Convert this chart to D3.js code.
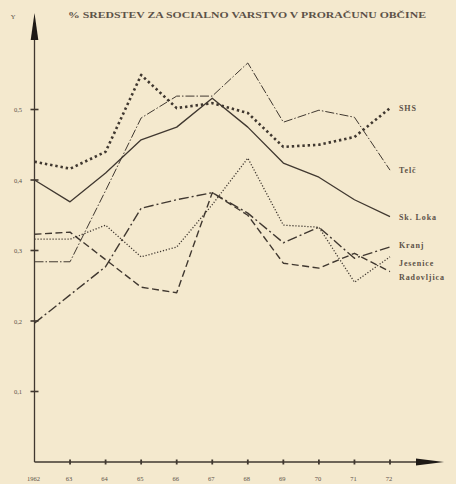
<!DOCTYPE html>
<html>
<head>
<meta charset="utf-8">
<script src="https://cdn.jsdelivr.net/npm/d3@7"></script>
<style>
  body { margin: 0; background: #f4e9ce; }
  svg { display: block; }
</style>
</head>
<body>
<script>
// years on the x axis
const years = [1962, 1963, 1964, 1965, 1966, 1967, 1968, 1969, 1970, 1971, 1972];
const yearLabels = ['1962', '63', '64', '65', '66', '67', '68', '69', '70', '71', '72'];
const yTicks = [0.1, 0.2, 0.3, 0.4, 0.5];

// share of funds per municipality
const shs        = [0.426, 0.416, 0.440, 0.549, 0.502, 0.509, 0.495, 0.447, 0.450, 0.461, 0.502];
const telc       = [0.284, 0.284, 0.385, 0.488, 0.519, 0.519, 0.566, 0.482, 0.499, 0.489, 0.414];
const skLoka     = [0.400, 0.369, 0.410, 0.457, 0.475, 0.516, 0.475, 0.424, 0.404, 0.372, 0.348];
const kranj      = [0.197, 0.237, 0.277, 0.360, 0.372, 0.382, 0.353, 0.311, 0.333, 0.289, 0.305];
const jesenice   = [0.316, 0.316, 0.336, 0.291, 0.305, 0.365, 0.431, 0.336, 0.333, 0.255, 0.291];
const radovljica = [0.323, 0.326, 0.287, 0.248, 0.240, 0.382, 0.350, 0.282, 0.275, 0.296, 0.270];

const seriesNames = ['SHS', 'Telč', 'Sk. Loka', 'Kranj', 'Jesenice', 'Radovljica'];
const seriesValues = [shs, telc, skLoka, kranj, jesenice, radovljica];

const title = '% SREDSTEV ZA SOCIALNO VARSTVO V PRORAČUNU OBČINE';

const width = 456, height = 484;
const ink = '#403830';
const textInk = '#5c5248';

const svg = d3.select('body').append('svg')
  .attr('width', width)
  .attr('height', height);

svg.append('rect').attr('width', width).attr('height', height).attr('fill', '#f4e9ce');

const xScale = d3.scaleLinear().domain([1962, 1972]).range([34.5, 390]);
const yScale = d3.scaleLinear().domain([0, 0.5]).range([462, 109.5]);

// line styles per series
const styles = {
  'SHS':        {w: 2.6, dash: '2.4,2.9'},
  'Telč':       {w: 1.0, dash: '9,2,1.5,2'},
  'Sk. Loka':   {w: 1.3, dash: null},
  'Kranj':      {w: 1.4, dash: '10,3,2,3'},
  'Jesenice':   {w: 1.3, dash: '1.2,1.8'},
  'Radovljica': {w: 1.4, dash: '7,3.5'}
};
// label y offsets so labels do not collide
const labelShift = {'SHS': 0, 'Telč': 0, 'Sk. Loka': 0, 'Kranj': -2, 'Jesenice': 6, 'Radovljica': 5};

// title
svg.append('text')
  .attr('x', 68).attr('y', 18)
  .attr('textLength', 358).attr('lengthAdjust', 'spacingAndGlyphs')
  .attr('font-family', 'Liberation Serif, serif')
  .attr('font-weight', 'bold')
  .attr('font-size', 7.5)
  .attr('fill', textInk)
  .text(title);

// y axis
svg.append('line')
  .attr('x1', xScale(1962)).attr('x2', xScale(1962))
  .attr('y1', yScale(0)).attr('y2', 30)
  .attr('stroke', ink).attr('stroke-width', 1.3);
svg.append('path')
  .attr('d', `M${xScale(1962)},13 L${xScale(1962) - 3.8},40 L${xScale(1962) + 3.8},40 Z`)
  .attr('fill', '#1e1a16');
svg.append('text')
  .attr('x', 13).attr('y', 19)
  .attr('text-anchor', 'middle')
  .attr('font-family', 'Liberation Serif, serif')
  .attr('font-size', 6.5)
  .attr('fill', textInk)
  .text('Y');

// x axis
svg.append('line')
  .attr('x1', xScale(1962)).attr('x2', 425)
  .attr('y1', yScale(0)).attr('y2', yScale(0))
  .attr('stroke', ink).attr('stroke-width', 1.3);
svg.append('path')
  .attr('d', `M444,${yScale(0)} L416,${yScale(0) - 3.5} L416,${yScale(0) + 3.5} Z`)
  .attr('fill', '#1e1a16');

// y ticks
svg.selectAll('.ytick')
  .data(yTicks)
  .enter()
  .append('line')
  .attr('class', 'ytick')
  .attr('x1', xScale(1962) - 4).attr('x2', xScale(1962) + 4)
  .attr('y1', d => yScale(d)).attr('y2', d => yScale(d))
  .attr('stroke', ink).attr('stroke-width', 1.6);

svg.selectAll('.ylabel')
  .data(yTicks)
  .enter()
  .append('text')
  .attr('class', 'ylabel')
  .attr('x', 22).attr('y', d => yScale(d) + 2.5)
  .attr('text-anchor', 'end')
  .attr('font-family', 'Liberation Serif, serif')
  .attr('font-size', 6.5)
  .attr('fill', textInk)
  .text(d => d3.format('.1f')(d).replace('.', ','));

// x ticks
svg.selectAll('.xtick')
  .data(years.slice(1))
  .enter()
  .append('line')
  .attr('class', 'xtick')
  .attr('x1', d => xScale(d)).attr('x2', d => xScale(d))
  .attr('y1', yScale(0) - 2.5).attr('y2', yScale(0) + 2.5)
  .attr('stroke', ink).attr('stroke-width', 1.8);

svg.selectAll('.xlabel')
  .data(years)
  .enter()
  .append('text')
  .attr('class', 'xlabel')
  .attr('x', d => xScale(d) - 1).attr('y', 481)
  .attr('text-anchor', 'middle')
  .attr('font-family', 'Liberation Serif, serif')
  .attr('font-size', 6.5)
  .attr('fill', textInk)
  .text((d, i) => yearLabels[i]);

// series lines
const line = d3.line()
  .x((d, i) => xScale(years[i]))
  .y(d => yScale(d));

seriesNames.forEach((name, k) => {
  const st = styles[name];
  svg.append('path')
    .datum(seriesValues[k])
    .attr('d', line)
    .attr('fill', 'none')
    .attr('stroke', ink)
    .attr('stroke-width', st.w)
    .attr('stroke-dasharray', st.dash)
    .attr('stroke-linejoin', 'round');

  const last = seriesValues[k][seriesValues[k].length - 1];
  svg.append('text')
    .attr('x', 399)
    .attr('y', yScale(last) + 3 + labelShift[name])
    .attr('font-family', 'Liberation Serif, serif')
    .attr('font-weight', 'bold')
    .attr('font-size', 8)
    .attr('letter-spacing', 0.9)
    .attr('fill', textInk)
    .text(name);
});
</script>
</body>
</html>
